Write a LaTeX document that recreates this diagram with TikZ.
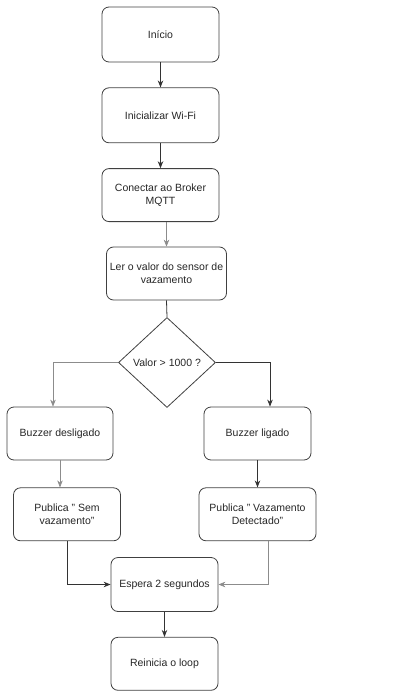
\documentclass[tikz,border=0pt]{standalone}
\usepackage{fontspec}
\setmainfont{Liberation Sans}
\usetikzlibrary{shapes.geometric,arrows.meta,positioning}

\begin{document}
\begin{tikzpicture}[
    x=1pt, y=-1pt,
    node distance=25pt and 20pt,
    box/.style={draw=black!75, rounded corners=7pt, minimum width=117pt,
                minimum height=55pt, inner sep=2pt, line width=0.8pt,
                font=\fontsize{10.5}{13}\selectfont, align=center, text=black!85},
    decision/.style={diamond, draw=black!75, line width=0.8pt, minimum width=97pt,
                     minimum height=90pt, inner sep=0pt,
                     font=\fontsize{10.5}{13}\selectfont, align=center, text=black!85},
    arr/.style={-{Stealth[length=7pt,width=5.5pt]}, black!80, line width=0.8pt},
    arrg/.style={-{Stealth[length=7pt,width=5.5pt]}, black!45, line width=0.6pt},
  ]
  \useasboundingbox (0,0) rectangle (408,696);

  \node[box] (inicio) at (160.5,34.5) {Início};
  \node[box, below=of inicio] (wifi) {Inicializar Wi-Fi};
  \node[box, minimum height=53pt, below=of wifi] (broker) {Conectar ao Broker\\MQTT};
  \node[box, minimum width=120pt, minimum height=53pt] (ler) at (166.5,273.5) {Ler o valor do sensor de\\vazamento};
  \node[decision] (valor) at (167,362.5) {Valor > 1000 ?};
  \node[box, minimum width=106pt, minimum height=53pt] (bdes) at (60,433.5) {Buzzer desligado};
  \node[box, minimum width=107pt, minimum height=53pt] (blig) at (257.5,433.5) {Buzzer ligado};
  \node[box, minimum width=107pt, minimum height=53pt, below=27pt of bdes.south, anchor=north, xshift=7pt] (psem) {Publica " Sem\\vazamento"};
  \node[box, minimum height=53pt, below=27pt of blig.south, anchor=north] (pvaz) {Publica " Vazamento\\Detectado"};
  \node[box, minimum width=107pt, minimum height=54pt] (espera) at (164.5,584.5) {Espera 2 segundos};
  \node[box, minimum width=107pt, minimum height=53pt, below=of espera] (reinicia) {Reinicia o loop};

  \draw[arr] (inicio) -- (wifi);
  \draw[arr] (wifi) -- (broker);
  \draw[arrg] (ler.north |- broker.south) -- (ler.north);
  \draw[black!80, line width=0.8pt] (ler.south) -- (valor.north);
  \draw[arrg] (valor.west) -| ([xshift=-7pt]bdes.north);
  \draw[arr] (valor.east) -| ([xshift=12.5pt]blig.north);
  \draw[arrg] (bdes.south) -- (bdes.south |- psem.north);
  \draw[arr] (blig) -- (pvaz);
  \draw[arr] (psem.south) |- (espera.west);
  \draw[arrg] ([xshift=10.5pt]pvaz.south) |- (espera.east);
  \draw[arr] (espera) -- (reinicia);
\end{tikzpicture}
\end{document}
